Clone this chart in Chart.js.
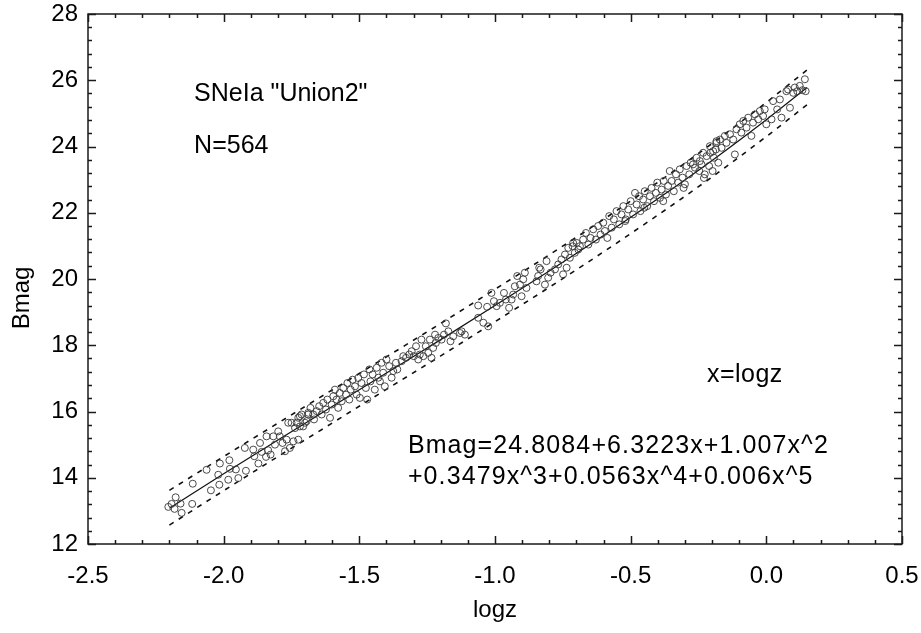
<!DOCTYPE html>
<html>
<head>
<meta charset="utf-8">
<script src="https://cdn.jsdelivr.net/npm/chart.js"></script>
<style>
  html, body { margin: 0; padding: 0; background: #fff; }
  #wrap { width: 921px; height: 633px; }
</style>
</head>
<body>
<div id="wrap"><canvas id="chart" width="921" height="633"></canvas></div>
<script>
// SNe Ia "Union2" sample (subset of the 564 points)
const logzValues = [
  -2.204, -2.192, -2.177, -2.181, -2.159, -2.155, -2.116, -2.114, -2.063, -2.047,
  -2.020, -2.016, -2.014, -1.983, -1.979, -1.977, -1.955, -1.946, -1.918, -1.922,
  -1.891, -1.887, -1.872, -1.866, -1.860, -1.844, -1.842, -1.836, -1.827, -1.817,
  -1.811, -1.799, -1.793, -1.783, -1.774, -1.768, -1.762, -1.756, -1.743, -1.731,
  -1.719, -1.725, -1.707, -1.694, -1.688,
  -1.750, -1.737, -1.725, -1.719, -1.713, -1.700, -1.688, -1.680, -1.670, -1.667,
  -1.657, -1.648, -1.639, -1.633, -1.623, -1.618, -1.608, -1.602, -1.596, -1.590,
  -1.584, -1.578, -1.572, -1.565, -1.559, -1.549, -1.544, -1.537, -1.532, -1.525,
  -1.516, -1.510, -1.504, -1.498, -1.492, -1.483, -1.476, -1.471, -1.463, -1.459,
  -1.451, -1.443, -1.436, -1.430, -1.424, -1.418, -1.412, -1.406, -1.400, -1.390,
  -1.381, -1.375, -1.365, -1.360, -1.344, -1.338, -1.328, -1.316, -1.307, -1.299,
  -1.291, -1.283, -1.277, -1.271, -1.264, -1.255, -1.246, -1.240, -1.234, -1.228,
  -1.218, -1.209,
  -1.221, -1.197, -1.188, -1.181, -1.172, -1.164, -1.154, -1.129, -1.123, -1.111,
  -1.062, -1.062, -1.043, -1.029, -1.025, -1.013, -1.004, -0.994, -0.982, -0.967,
  -0.960, -0.948, -0.939, -0.933, -0.927, -0.918, -0.908, -0.902, -0.896, -0.890,
  -0.884, -0.847, -0.841, -0.837, -0.832, -0.816, -0.810, -0.804, -0.795, -0.779,
  -0.767, -0.755, -0.749, -0.742, -0.736, -0.730, -0.724, -0.714, -0.706, -0.699,
  -0.693,
  -0.712, -0.687, -0.675, -0.665, -0.656, -0.648, -0.638, -0.628, -0.620, -0.611,
  -0.601, -0.595, -0.586, -0.579, -0.570, -0.562, -0.552, -0.542, -0.534, -0.527,
  -0.518, -0.509, -0.500, -0.491, -0.484, -0.478, -0.469, -0.464, -0.454, -0.448,
  -0.439, -0.429, -0.423, -0.414, -0.407, -0.402, -0.392, -0.386, -0.378, -0.370,
  -0.362, -0.356, -0.349, -0.341, -0.333, -0.325, -0.319, -0.309, -0.300, -0.294,
  -0.284, -0.279, -0.263, -0.247, -0.239, -0.227, -0.211, -0.206, -0.198, -0.193,
  -0.186, -0.177, -0.184, -0.520, -0.450, -0.380, -0.305, -0.230,
  -0.270, -0.257, -0.245, -0.233, -0.220, -0.208, -0.196, -0.184, -0.171, -0.165,
  -0.153, -0.147, -0.134, -0.122, -0.116, -0.110, -0.098, -0.092, -0.085, -0.073,
  -0.067, -0.055, -0.049, -0.042, -0.030, -0.024, -0.012, -0.006, 0.000, 0.019,
  0.025, 0.040, 0.050, 0.056, 0.074, 0.080, 0.087, 0.099, 0.105, 0.114,
  0.123, 0.133, 0.142, 0.145
];
const bmagValues = [
  13.12, 13.21, 13.41, 13.06, 13.22, 12.94, 13.21, 13.82, 14.24, 13.62,
  14.09, 13.79, 14.43, 13.94, 14.53, 14.27, 14.25, 13.99, 14.21, 14.90,
  14.85, 14.65, 14.43, 15.05, 14.78, 14.63, 15.25, 14.83, 14.70, 15.25,
  15.00, 15.40, 15.25, 15.05, 14.80, 15.15, 15.66, 14.90, 15.10, 15.66,
  15.86, 15.15, 15.55, 15.71, 15.91,
  15.66, 15.50, 15.81, 15.55, 15.91, 15.66, 15.96, 16.11, 15.91, 15.76,
  16.01, 16.16, 15.91, 16.26, 16.06, 16.36, 15.81, 16.21, 16.46, 16.66,
  16.36, 16.11, 16.56, 16.31, 16.71, 16.51, 16.86, 16.36, 16.66, 16.96,
  16.76, 16.51, 17.01, 16.41, 16.86, 17.12, 16.71, 16.36, 17.27, 16.91,
  17.12, 16.66, 17.32, 17.02, 16.91, 17.47, 17.17, 16.76, 17.57, 17.37,
  17.02, 17.22, 17.47, 17.27, 17.52, 17.67, 17.62, 17.72, 17.82, 17.67,
  17.97, 17.57, 17.72, 18.17, 17.67, 17.97, 17.77, 18.17, 17.62, 17.92,
  18.07, 18.22,
  18.32, 18.17, 18.32, 18.66, 18.42, 18.12, 18.27, 18.37, 18.42, 18.32,
  19.20, 18.83, 18.68, 19.16, 18.57, 19.58, 19.33, 19.18, 19.28, 19.58,
  19.38, 19.13, 19.38, 19.53, 19.78, 20.09, 19.83, 19.48, 19.99, 20.19,
  19.73, 19.93, 20.09, 20.34, 20.29, 19.83, 20.54, 20.04, 20.19, 20.29,
  20.44, 20.59, 20.14, 20.74, 20.34, 20.94, 20.64, 20.99, 20.79, 21.09,
  20.89,
  21.09, 20.99, 21.19, 21.39, 21.04, 21.24, 21.50, 21.19, 21.60, 21.34,
  21.70, 21.45, 21.24, 21.90, 21.55, 21.80, 22.05, 21.65, 21.95, 22.20,
  21.80, 22.10, 22.35, 21.95, 22.60, 22.25, 22.50, 22.05, 22.40, 22.65,
  22.20, 22.50, 22.75, 22.35, 22.60, 22.91, 22.45, 22.70, 22.96, 22.55,
  22.81, 23.26, 22.96, 22.65, 23.16, 22.91, 23.31, 23.06, 22.86, 23.41,
  23.16, 23.51, 23.36, 23.26, 23.46, 23.16, 23.41, 23.81, 23.26, 23.66,
  23.91, 23.51, 24.16, 21.75, 22.15, 22.35, 22.75, 23.05,
  23.46, 23.66, 23.56, 23.81, 23.71, 24.01, 23.86, 24.11, 24.21, 23.96,
  24.32, 24.11, 24.37, 24.21, 23.76, 24.52, 24.67, 24.42, 24.77, 24.57,
  24.87, 24.32, 24.72, 24.97, 24.82, 25.07, 24.92, 25.12, 24.67, 24.82,
  25.37, 25.12, 25.42, 24.87, 25.67, 25.72, 25.17, 25.62, 25.78, 25.67,
  25.83, 25.70, 26.03, 25.67
];

// fitted polynomial and its dashed band
const fitLogz = [-2.2, -2.0, -1.8, -1.6, -1.4, -1.2, -1.0, -0.8, -0.6, -0.4, -0.2, 0.0, 0.15];
const fitBmag = [13.08, 14.12, 15.14, 16.15, 17.16, 18.17, 19.20, 20.24, 21.31, 22.42, 23.58, 24.81, 25.78];
const bandUpper = [13.62, 14.64, 15.65, 16.65, 17.65, 18.66, 19.69, 20.73, 21.80, 22.92, 24.09, 25.33, 26.31];
const bandLower = [12.57, 13.61, 14.64, 15.65, 16.67, 17.68, 18.71, 19.75, 20.82, 21.93, 23.08, 24.30, 25.26];

const xTicks = [-2.5, -2.0, -1.5, -1.0, -0.5, 0.0, 0.5];
const yTicks = [12, 14, 16, 18, 20, 22, 24, 26, 28];

const notes = [
  { text: 'SNeIa "Union2"', x: -2.109, y: 25.59, spacing: 0 },
  { text: 'N=564', x: -2.109, y: 24.02, spacing: 0 },
  { text: 'x=logz', x: -0.219, y: 17.11, spacing: 0.5 },
  { text: 'Bmag=24.8084+6.3223x+1.007x^2', x: -1.321, y: 14.97, spacing: 1.1 },
  { text: '+0.3479x^3+0.0563x^4+0.006x^5', x: -1.321, y: 14.03, spacing: 1.1 }
];

const FONT = '"Liberation Sans", Arial, sans-serif';
const toXY = (xs, ys) => xs.map((x, i) => ({ x: x, y: ys[i] }));

// inward ticks on all four sides, titles and text notes
const framePlugin = {
  id: 'frame',
  afterDraw(chart) {
    const ctx = chart.ctx;
    const xs = chart.scales.x;
    const ys = chart.scales.y;
    const a = chart.chartArea;
    ctx.save();
    ctx.strokeStyle = '#1a1a1a';
    ctx.lineWidth = 1.5;
    ctx.strokeRect(a.left, a.top, a.right - a.left, a.bottom - a.top);

    ctx.beginPath();
    for (let i = 0; i <= 30; i++) {
      const v = -2.5 + i * 0.1;
      const px = Math.round(xs.getPixelForValue(v)) + 0.5;
      const len = i % 5 === 0 ? 8 : 4;
      ctx.moveTo(px, a.bottom); ctx.lineTo(px, a.bottom - len);
      ctx.moveTo(px, a.top); ctx.lineTo(px, a.top + len);
    }
    for (let i = 0; i <= 40; i++) {
      const v = 12 + i * 0.4;
      const py = Math.round(ys.getPixelForValue(v)) + 0.5;
      const len = i % 5 === 0 ? 8 : 4;
      ctx.moveTo(a.left, py); ctx.lineTo(a.left + len, py);
      ctx.moveTo(a.right, py); ctx.lineTo(a.right - len, py);
    }
    ctx.stroke();

    ctx.fillStyle = '#000';
    ctx.font = '24px ' + FONT;
    ctx.textAlign = 'center';
    ctx.textBaseline = 'middle';
    ctx.fillText('logz', (a.left + a.right) / 2, 610);
    ctx.save();
    ctx.translate(22, 298);
    ctx.rotate(-Math.PI / 2);
    ctx.fillText('Bmag', 0, 0);
    ctx.restore();

    ctx.font = '25px ' + FONT;
    ctx.textAlign = 'left';
    notes.forEach(n => {
      ctx.letterSpacing = n.spacing + 'px';
      ctx.fillText(n.text, xs.getPixelForValue(n.x), ys.getPixelForValue(n.y));
    });
    ctx.letterSpacing = '0px';
    ctx.restore();
  }
};

new Chart(document.getElementById('chart'), {
  type: 'scatter',
  data: {
    datasets: [
      {
        label: 'SNe',
        data: toXY(logzValues, bmagValues),
        pointStyle: 'circle',
        pointRadius: 3.5,
        pointBorderWidth: 1,
        pointBorderColor: 'rgba(55,55,55,0.9)',
        pointBackgroundColor: 'rgba(255,255,255,0)',
        showLine: false
      },
      {
        label: 'fit',
        type: 'line',
        data: toXY(fitLogz, fitBmag),
        borderColor: '#111',
        borderWidth: 1.2,
        pointRadius: 0,
        cubicInterpolationMode: 'monotone',
        fill: false
      },
      {
        label: 'upper',
        type: 'line',
        data: toXY(fitLogz, bandUpper),
        borderColor: '#111',
        borderWidth: 1.6,
        borderDash: [5, 6],
        pointRadius: 0,
        cubicInterpolationMode: 'monotone',
        fill: false
      },
      {
        label: 'lower',
        type: 'line',
        data: toXY(fitLogz, bandLower),
        borderColor: '#111',
        borderWidth: 1.6,
        borderDash: [5, 6],
        pointRadius: 0,
        cubicInterpolationMode: 'monotone',
        fill: false
      }
    ]
  },
  options: {
    responsive: false,
    animation: false,
    events: [],
    layout: { padding: 0 },
    plugins: {
      legend: { display: false },
      tooltip: { enabled: false }
    },
    scales: {
      x: {
        type: 'linear',
        min: -2.5,
        max: 0.5,
        afterBuildTicks: (s) => { s.ticks = xTicks.map(v => ({ value: v })); },
        afterFit: (s) => { s.height = 89; s.paddingLeft = 0; s.paddingRight = 19; },
        grid: { display: false, drawTicks: false },
        border: { display: false },
        ticks: {
          color: '#000',
          padding: 18,
          maxRotation: 0,
          font: { family: FONT, size: 24 },
          callback: (v) => Number(v).toFixed(1)
        }
      },
      y: {
        type: 'linear',
        min: 12,
        max: 28,
        afterBuildTicks: (s) => { s.ticks = yTicks.map(v => ({ value: v })); },
        afterFit: (s) => { s.width = 88; s.paddingTop = 14; s.paddingBottom = 0; },
        grid: { display: false, drawTicks: false },
        border: { display: false },
        ticks: {
          color: '#000',
          padding: 10,
          font: { family: FONT, size: 24 },
          callback: (v) => String(v)
        }
      }
    }
  },
  plugins: [framePlugin]
});
</script>
</body>
</html>
